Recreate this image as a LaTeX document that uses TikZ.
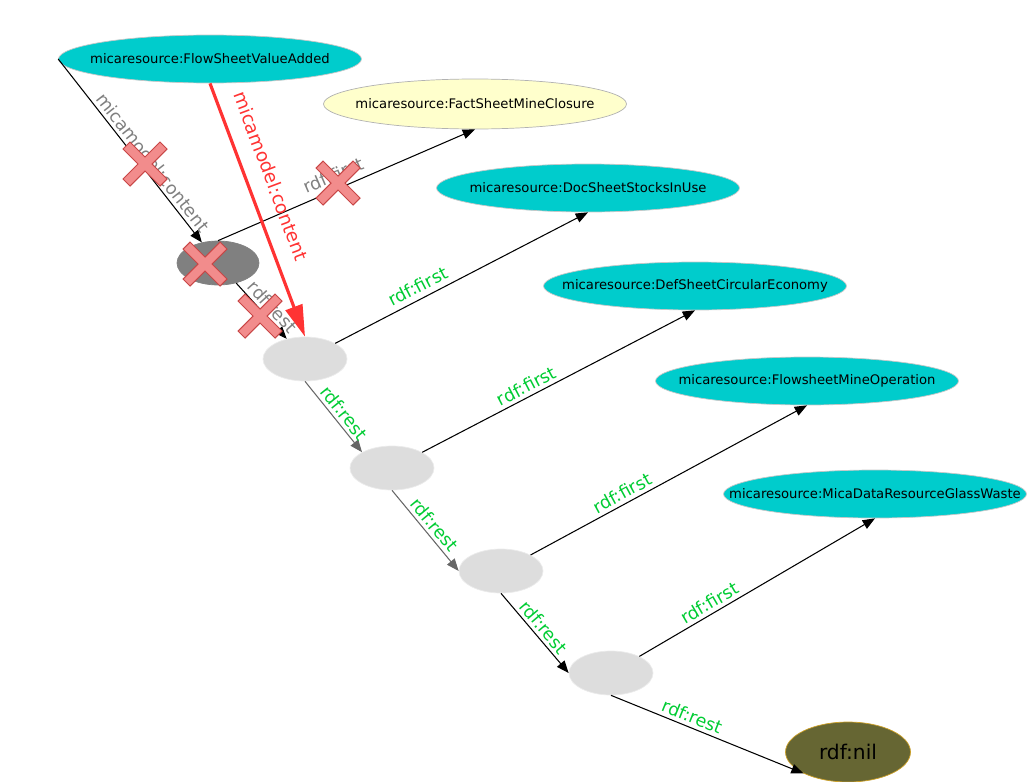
\documentclass[tikz,border=0pt]{standalone}
\usepackage{fontspec}
\setmainfont{DejaVu Sans}
\usetikzlibrary{arrows.meta,positioning,shapes.geometric}
\definecolor{rescyan}{RGB}{0,204,204}
\definecolor{resyellow}{RGB}{255,255,204}
\definecolor{blankgray}{RGB}{221,221,221}
\definecolor{nilolive}{RGB}{102,102,51}
\definecolor{nilgold}{RGB}{204,160,40}
\definecolor{lblgreen}{RGB}{0,204,51}
\definecolor{lblred}{RGB}{255,51,51}
\definecolor{crossfill}{RGB}{242,140,140}
\definecolor{crossline}{RGB}{200,70,70}
\tikzset{
  xmark/.pic={
    \filldraw[fill=crossfill, draw=crossline, line width=0.6pt]
      (0,7)--(15,22)--(22,15)--(7,0)--(22,-15)--(15,-22)--(0,-7)
      --(-15,-22)--(-22,-15)--(-7,0)--(-22,15)--(-15,22)--cycle;
  }
}

\begin{document}
\begin{tikzpicture}[
  x=0.02cm,y=-0.02cm,
  res/.style={ellipse, draw=black!22, fill=rescyan, minimum width=6.06cm, minimum height=0.96cm, inner sep=0pt,
    label={[font=\fontsize{7.5}{9}\selectfont, inner sep=0pt]center:#1}},
  blank/.style={ellipse, draw=black!8, fill=blankgray, minimum width=1.68cm, minimum height=0.88cm, inner sep=0pt},
  lbl/.style={font=\fontsize{10}{12}\selectfont, sloped, above, inner sep=2pt},
  arr/.style={-{Triangle[length=7pt,width=5.5pt]}, line width=0.6pt},
  grayarr/.style={arr, draw=black!60, -{Triangle[length=7pt,width=5.5pt, fill=black!60]}}
]
\useasboundingbox (0,0) rectangle (1034,781);

% resources
\node[res={micaresource:FlowSheetValueAdded}] (flow) at (210,59) {};
\node[res={micaresource:FactSheetMineClosure}, fill=resyellow, draw=black!30, minimum height=1cm] (fact) at (475,104) {};
\node[res={micaresource:DocSheetStocksInUse}] (doc) at (588,188) {};
\node[res={micaresource:DefSheetCircularEconomy}] (def) at (695,286) {};
\node[res={micaresource:FlowsheetMineOperation}] (mine) at (807,381) {};
\node[res={micaresource:MicaDataResourceGlassWaste}] (glass) at (875,494) {};
\node[ellipse, draw=nilgold, fill=nilolive, minimum width=2.5cm, minimum height=1.2cm, inner sep=0pt, font=\fontsize{11.5}{13}\selectfont] (nil) at (848,752) {rdf:nil};

% list cells
\node[blank, fill=black!50, draw=black!50, minimum width=1.64cm] (b0) at (218,263) {};
\node[blank] (b1) at (305,359) {};
\node[blank] (b2) at (392,468) {};
\node[blank] (b3) at (501,571) {};
\node[blank] (b4) at (611,673) {};

% removed links
\draw[arr] (flow.west) -- node[lbl, pos=0.6, text=black!50] {micamodel:content} (b0);
\draw[arr] (b0.north) -- node[lbl, pos=0.47, above=2pt, text=black!50] {rdf:first} (fact.south);
\draw[arr] (b0) -- node[lbl, pos=0.56, text=black!50] {rdf:rest} (b1);

% new link
\draw[draw=lblred, line width=1.8pt, -{Triangle[length=18pt,width=10pt]}] (flow.south) -- node[lbl, pos=0.4, above=7pt, text=lblred, font=\fontsize{10.5}{12}\selectfont] {micamodel:content} (b1.north);

% list
\draw[arr] (b1) -- node[lbl, pos=0.35, above=1pt, text=lblgreen] {rdf:first} (doc.south);
\draw[grayarr] (b1.south) -- node[lbl, pos=0.54, text=lblgreen] {rdf:rest} (b2.north west);
\draw[arr] (b2) -- node[lbl, pos=0.4, text=lblgreen] {rdf:first} (def.south);
\draw[grayarr] (b2.south) -- node[lbl, pos=0.51, text=lblgreen] {rdf:rest} (b3.west);
\draw[arr] (b3) -- node[lbl, pos=0.35, text=lblgreen] {rdf:first} (mine.south);
\draw[arr] (b3.south) -- node[lbl, pos=0.51, text=lblgreen] {rdf:rest} (b4.west);
\draw[arr] (b4) -- node[lbl, pos=0.32, text=lblgreen] {rdf:first} (glass.south);
\draw[arr] (b4.south) -- node[lbl, pos=0.4, text=lblgreen] {rdf:rest} (nil.south west);

% crosses
\pic at (145,164) {xmark};
\pic at (338,183) {xmark};
\pic at (205,264) {xmark};
\pic at (260,316) {xmark};
\end{tikzpicture}
\end{document}
